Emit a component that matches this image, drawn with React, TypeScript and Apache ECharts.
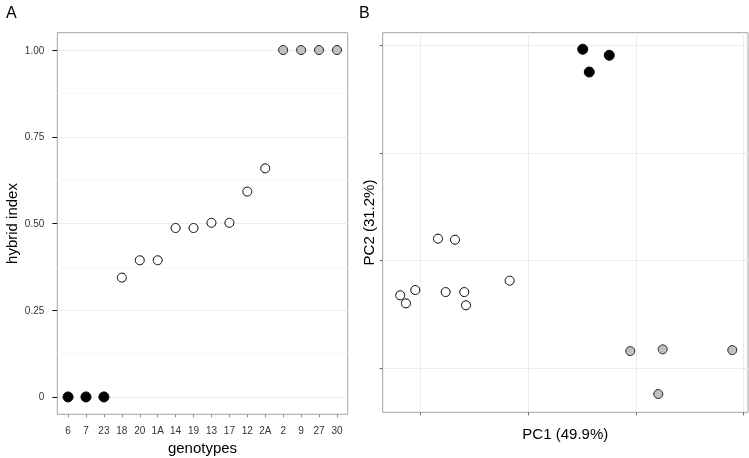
import React, { useEffect, useRef } from "react";
import * as echarts from "echarts";

// Panel A: hybrid index per genotype
const genotypes = ["6", "7", "23", "18", "20", "1A", "14", "19", "13", "17", "12", "2A", "2", "9", "27", "30"];
const hybridIndex = [0, 0, 0, 0.344, 0.394, 0.394, 0.487, 0.487, 0.502, 0.502, 0.592, 0.659, 1, 1, 1, 1];
const genotypeGroup = ["p1", "p1", "p1", "h", "h", "h", "h", "h", "h", "h", "h", "h", "p2", "p2", "p2", "p2"];
const yTicksA = [0, 0.25, 0.5, 0.75, 1];
const yMinorA = [0.125, 0.375, 0.625, 0.875];

// Panel B: PCA scores (arbitrary units)
const pc1Parent1 = [1.506, 1.753, 1.567];
const pc2Parent1 = [2.967, 2.911, 2.755];
const pc1Hybrid = [0.161, 0.319, 0.827, -0.05, -0.19, -0.137, 0.232, 0.405, 0.421];
const pc2Hybrid = [1.204, 1.194, 0.813, 0.726, 0.677, 0.602, 0.707, 0.707, 0.584];
const pc1Parent2 = [1.948, 2.249, 2.896, 2.208];
const pc2Parent2 = [0.158, 0.174, 0.167, -0.242];
const pcTicks = [0, 1, 2, 3];

const FONT = "Liberation Sans, Arial, sans-serif";
const BORDER = "#a3a3a3";
const GRID_MAJOR = "#ececec";
const GRID_MINOR = "#f8f8f8";
const LABEL = "#333";

const styleP1 = { color: "#000", borderColor: "#000", borderWidth: 1, opacity: 1 };
const styleH = { color: "#fff", borderColor: "#000", borderWidth: 1, opacity: 1 };
const styleP2 = { color: "#c0c0c0", borderColor: "#222", borderWidth: 1, opacity: 1 };

export default function App() {
  const ref = useRef<HTMLDivElement>(null);
  useEffect(() => {
    if (!ref.current) return;
    const chart = echarts.init(ref.current, undefined, { renderer: "svg" });

    const aPts = (g: string) =>
      hybridIndex
        .map((v, i) => [i + 1, v, g === genotypeGroup[i]])
        .filter((d) => d[2])
        .map((d) => [d[0], d[1]]);
    const zip = (xs: number[], ys: number[]) => xs.map((x, i) => [x, ys[i]]);

    const noLine = { show: false, onZero: false };

    const option: any = {
      animation: false,
      textStyle: { fontFamily: FONT },
      grid: [
        { left: 57.3, right: 401.3, top: 32.7, bottom: 43.7, show: true, borderColor: BORDER, borderWidth: 1, backgroundColor: "transparent" },
        { left: 382.7, right: 1, top: 32.7, bottom: 45.7, show: true, borderColor: BORDER, borderWidth: 1, backgroundColor: "transparent" },
      ],
      xAxis: [
        {
          gridIndex: 0, type: "value", min: 0.4, max: 16.6,
          axisLine: noLine,
          axisTick: { show: true, length: 3, lineStyle: { color: "#888" }, customValues: genotypes.map((_, i) => i + 1) },
          axisLabel: {
            show: true, margin: 11, fontSize: 10, color: LABEL, fontFamily: FONT,
            customValues: genotypes.map((_, i) => i + 1),
            formatter: (v: number) => genotypes[Math.round(v) - 1] ?? "",
          },
          splitLine: { show: false },
        },
        {
          gridIndex: 1, type: "value", min: -0.353, max: 3.042,
          axisLine: noLine,
          axisTick: { show: true, length: 3, lineStyle: { color: "#666" }, customValues: pcTicks },
          axisLabel: { show: false, customValues: pcTicks },
          splitLine: { show: true, lineStyle: { color: GRID_MAJOR, width: 1 } },
        },
      ],
      yAxis: [
        {
          gridIndex: 0, type: "value", min: -0.05, max: 1.05,
          axisLine: noLine,
          axisTick: { show: true, length: 5, lineStyle: { color: "#111" }, customValues: yTicksA },
          axisLabel: {
            show: true, margin: 13, fontSize: 10, color: LABEL, fontFamily: FONT,
            customValues: yTicksA,
            formatter: (v: number) => (v === 0 ? "0" : v.toFixed(2)),
          },
          splitLine: { show: true, lineStyle: { color: GRID_MAJOR, width: 1 } },
        },
        {
          gridIndex: 0, type: "value", min: -0.05, max: 1.05,
          axisLine: noLine,
          axisLabel: { show: false },
          axisTick: { show: false, customValues: yMinorA },
          splitLine: { show: true, lineStyle: { color: GRID_MINOR, width: 1 } },
        },
        {
          gridIndex: 1, type: "value", min: -0.412, max: 3.121,
          axisLine: noLine,
          axisTick: { show: true, length: 3, lineStyle: { color: "#666" }, customValues: pcTicks },
          axisLabel: { show: false, customValues: pcTicks },
          splitLine: { show: true, lineStyle: { color: GRID_MAJOR, width: 1 } },
        },
      ],
      series: [
        { type: "scatter", xAxisIndex: 0, yAxisIndex: 0, symbolSize: 10, itemStyle: styleP1, data: aPts("p1") },
        { type: "scatter", xAxisIndex: 0, yAxisIndex: 0, symbolSize: 9, itemStyle: styleH, data: aPts("h") },
        { type: "scatter", xAxisIndex: 0, yAxisIndex: 0, symbolSize: 9, itemStyle: styleP2, data: aPts("p2") },
        { type: "scatter", xAxisIndex: 1, yAxisIndex: 2, symbolSize: 10, itemStyle: styleP1, data: zip(pc1Parent1, pc2Parent1) },
        { type: "scatter", xAxisIndex: 1, yAxisIndex: 2, symbolSize: 9, itemStyle: styleH, data: zip(pc1Hybrid, pc2Hybrid) },
        { type: "scatter", xAxisIndex: 1, yAxisIndex: 2, symbolSize: 9, itemStyle: styleP2, data: zip(pc1Parent2, pc2Parent2) },
      ],
      graphic: [
        { type: "text", x: 6, y: 12, style: { text: "A", font: `16px ${FONT}`, fill: "#000", textVerticalAlign: "middle", textAlign: "left" } },
        { type: "text", x: 359, y: 12, style: { text: "B", font: `16px ${FONT}`, fill: "#000", textVerticalAlign: "middle", textAlign: "left" } },
        { type: "text", x: 11, y: 223.5, rotation: Math.PI / 2, style: { text: "hybrid index", font: `15px ${FONT}`, fill: "#000", textVerticalAlign: "middle", textAlign: "center" } },
        { type: "text", x: 202.5, y: 447, style: { text: "genotypes", font: `15px ${FONT}`, fill: "#000", textVerticalAlign: "middle", textAlign: "center" } },
        { type: "text", x: 368, y: 222.5, rotation: Math.PI / 2, style: { text: "PC2 (31.2%)", font: `15px ${FONT}`, fill: "#000", textVerticalAlign: "middle", textAlign: "center" } },
        { type: "text", x: 565.3, y: 433, style: { text: "PC1 (49.9%)", font: `15px ${FONT}`, fill: "#000", textVerticalAlign: "middle", textAlign: "center" } },
      ],
    };
    chart.setOption(option);
    return () => chart.dispose();
  }, []);
  return <div ref={ref} style={{ position: "fixed", left: 0, top: 0, width: 749, height: 458 }} />;
}
